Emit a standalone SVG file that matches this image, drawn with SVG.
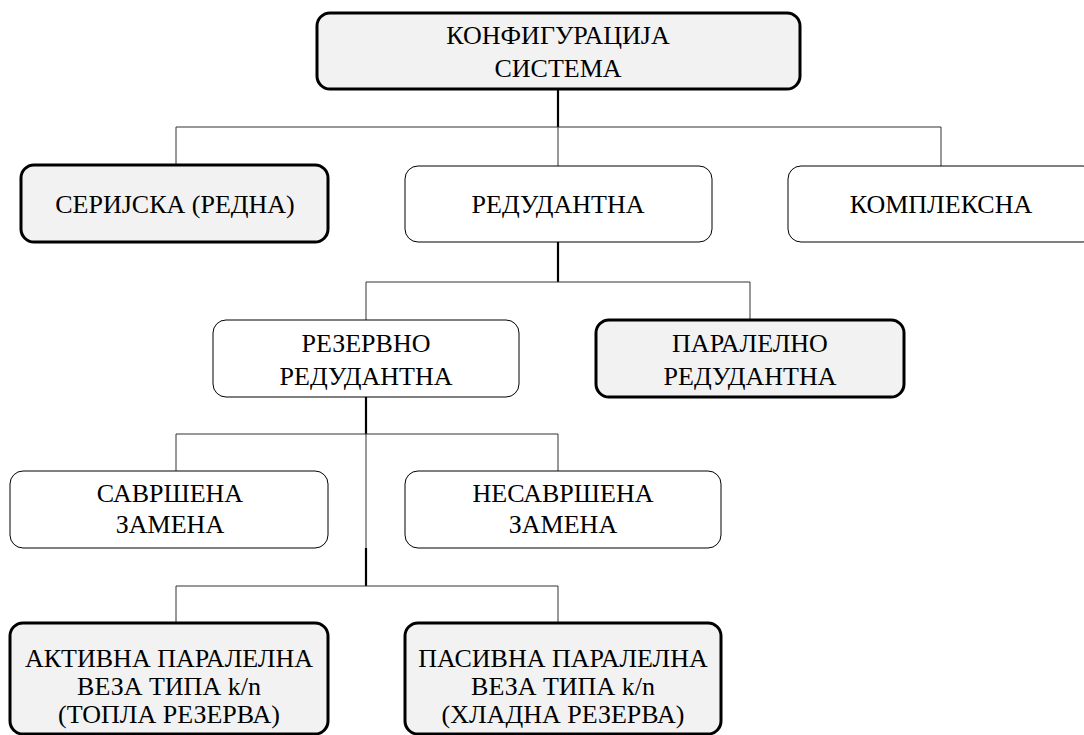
<svg xmlns="http://www.w3.org/2000/svg" width="1084" height="735" viewBox="0 0 1084 735">
<rect width="1084" height="735" fill="#fff"/>
<g id="connectors" fill="none">
<g stroke="#000" stroke-width="2.2">
<line x1="558" y1="89" x2="558" y2="127"/>
<line x1="558" y1="242" x2="558" y2="282"/>
<line x1="366" y1="397" x2="366" y2="434"/>
<line x1="366" y1="548" x2="366" y2="586"/>
</g>
<g stroke="#333" stroke-width="1">
<polyline points="176,165 176,127 941,127 941,166"/>
<line x1="558" y1="127" x2="558" y2="166"/>
<polyline points="366,320 366,282 750,282 750,320"/>
<polyline points="176,471 176,434 558,434 558,471"/>
<line x1="366" y1="434" x2="366" y2="548"/>
<polyline points="176,623 176,586 558,586 558,623"/>
</g>
</g>
<g id="n-config">
<rect x="317" y="13" width="483" height="76" rx="13" fill="#f2f2f2" stroke="#000" stroke-width="3"/>
<text x="558" y="44" font-family="Liberation Serif" font-size="26" text-anchor="middle" style="font-family:'Liberation Serif',serif">КОНФИГУРАЦИЈА</text>
<text x="558" y="77" font-family="Liberation Serif" font-size="26" text-anchor="middle" style="font-family:'Liberation Serif',serif">СИСТЕМА</text>
</g>
<g id="n-serijska">
<rect x="21" y="165" width="307" height="77" rx="13" fill="#f2f2f2" stroke="#000" stroke-width="3"/>
<text x="175" y="213" font-family="Liberation Serif" font-size="26" text-anchor="middle" style="font-family:'Liberation Serif',serif">СЕРИЈСКА (РЕДНА)</text>
</g>
<g id="n-redudantna">
<rect x="405" y="166" width="307" height="76" rx="13" fill="#fff" stroke="#000" stroke-width="1"/>
<text x="558" y="213" font-family="Liberation Serif" font-size="26" text-anchor="middle" style="font-family:'Liberation Serif',serif">РЕДУДАНТНА</text>
</g>
<g id="n-kompleksna">
<rect x="788" y="166" width="308" height="76" rx="13" fill="#fff" stroke="#000" stroke-width="1"/>
<text x="941" y="213" font-family="Liberation Serif" font-size="26" text-anchor="middle" style="font-family:'Liberation Serif',serif">КОМПЛЕКСНА</text>
</g>
<g id="n-rezervno">
<rect x="213" y="320" width="306" height="77" rx="13" fill="#fff" stroke="#000" stroke-width="1"/>
<text x="366" y="352" font-family="Liberation Serif" font-size="26" text-anchor="middle" style="font-family:'Liberation Serif',serif">РЕЗЕРВНО</text>
<text x="366" y="385" font-family="Liberation Serif" font-size="26" text-anchor="middle" style="font-family:'Liberation Serif',serif">РЕДУДАНТНА</text>
</g>
<g id="n-paralelno">
<rect x="596" y="320" width="308" height="77" rx="13" fill="#f2f2f2" stroke="#000" stroke-width="3"/>
<text x="750" y="352" font-family="Liberation Serif" font-size="26" text-anchor="middle" style="font-family:'Liberation Serif',serif">ПАРАЛЕЛНО</text>
<text x="750" y="385" font-family="Liberation Serif" font-size="26" text-anchor="middle" style="font-family:'Liberation Serif',serif">РЕДУДАНТНА</text>
</g>
<g id="n-savrsena">
<rect x="10" y="471" width="318" height="77" rx="13" fill="#fff" stroke="#000" stroke-width="1"/>
<text x="170" y="502" font-family="Liberation Serif" font-size="26" text-anchor="middle" style="font-family:'Liberation Serif',serif">САВРШЕНА</text>
<text x="170" y="533" font-family="Liberation Serif" font-size="26" text-anchor="middle" style="font-family:'Liberation Serif',serif">ЗАМЕНА</text>
</g>
<g id="n-nesavrsena">
<rect x="405" y="471" width="316" height="77" rx="13" fill="#fff" stroke="#000" stroke-width="1"/>
<text x="563" y="502" font-family="Liberation Serif" font-size="26" text-anchor="middle" style="font-family:'Liberation Serif',serif">НЕСАВРШЕНА</text>
<text x="563" y="533" font-family="Liberation Serif" font-size="26" text-anchor="middle" style="font-family:'Liberation Serif',serif">ЗАМЕНА</text>
</g>
<g id="n-aktivna">
<rect x="10" y="623" width="318" height="111" rx="13" fill="#f2f2f2" stroke="#000" stroke-width="3"/>
<text x="169" y="667" font-family="Liberation Serif" font-size="26" text-anchor="middle" style="font-family:'Liberation Serif',serif">АКТИВНА ПАРАЛЕЛНА</text>
<text x="169" y="695" font-family="Liberation Serif" font-size="26" text-anchor="middle" style="font-family:'Liberation Serif',serif">ВЕЗА ТИПА k/n</text>
<text x="169" y="723" font-family="Liberation Serif" font-size="26" text-anchor="middle" style="font-family:'Liberation Serif',serif">(ТОПЛА РЕЗЕРВА)</text>
</g>
<g id="n-pasivna">
<rect x="405" y="623" width="316" height="111" rx="13" fill="#f2f2f2" stroke="#000" stroke-width="3"/>
<text x="563" y="667" font-family="Liberation Serif" font-size="26" text-anchor="middle" style="font-family:'Liberation Serif',serif">ПАСИВНА ПАРАЛЕЛНА</text>
<text x="563" y="695" font-family="Liberation Serif" font-size="26" text-anchor="middle" style="font-family:'Liberation Serif',serif">ВЕЗА ТИПА k/n</text>
<text x="563" y="723" font-family="Liberation Serif" font-size="26" text-anchor="middle" style="font-family:'Liberation Serif',serif">(ХЛАДНА РЕЗЕРВА)</text>
</g>
</svg>
